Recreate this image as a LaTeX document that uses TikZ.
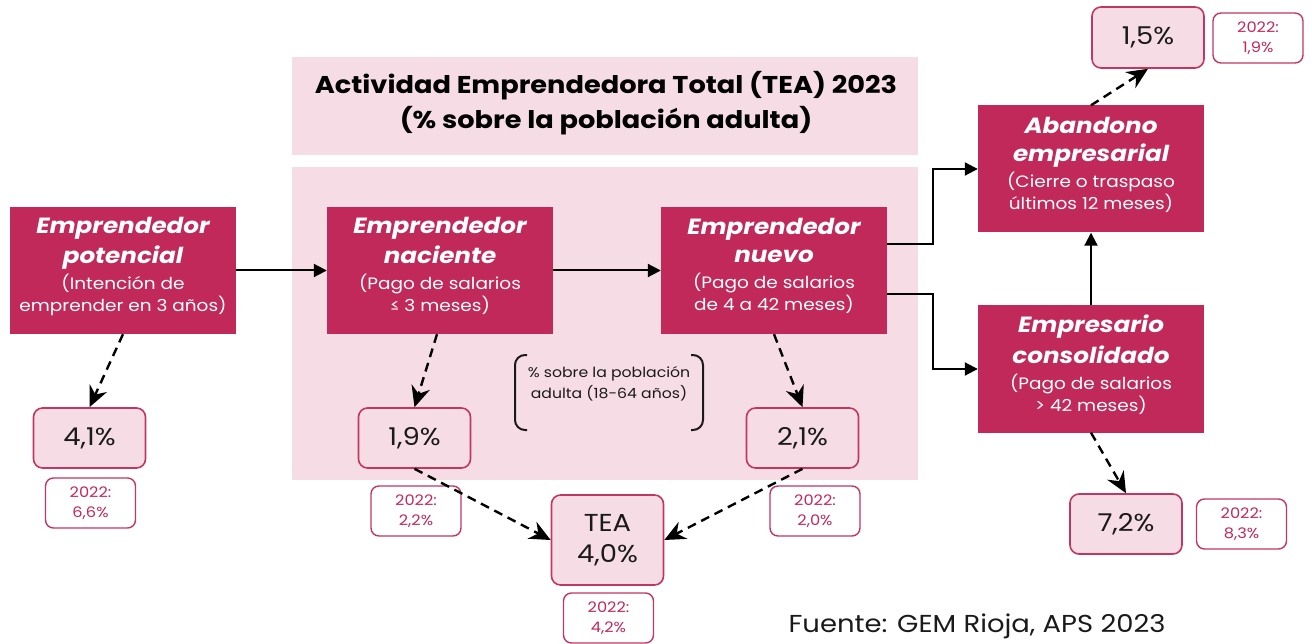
\documentclass[tikz,border=0pt]{standalone}
\usepackage{fontspec}
\setmainfont{Poppins}[FakeStretch=1.12]
\usetikzlibrary{arrows.meta,calc}
\definecolor{dark}{HTML}{C0295A}
\definecolor{lite}{HTML}{F6DDE5}
\definecolor{edge}{HTML}{C23762}
\definecolor{ink}{HTML}{1A1A1A}
\newcommand{\tfnt}{\fontsize{22}{26}\selectfont\bfseries\itshape}
\newcommand{\sfnt}{\fontsize{16.5}{22}\selectfont}
\begin{document}
\begin{tikzpicture}[x=1pt,y=-1pt,
  stage/.style={fill=dark,draw=none,text=white,align=center,minimum width=226pt,minimum height=127pt,inner sep=0,font=\sfnt},
  val/.style={fill=lite,draw=edge,line width=1.6pt,rounded corners=9pt,minimum width=112pt,minimum height=60pt,inner sep=0,text=ink,font=\fontsize{24.5}{31}\selectfont,align=center},
  prev/.style={fill=white,draw=edge,line width=1.4pt,rounded corners=8pt,minimum width=90pt,minimum height=50pt,inner sep=0,text=dark,font=\fontsize{14.5}{20}\selectfont,align=center},
  solidarr/.style={line width=2pt,-{Triangle[length=13pt,width=13pt]}},
  dasharr/.style={line width=2.4pt,dash pattern=on 9pt off 6pt,-{Stealth[length=21pt,width=19pt,inset=7pt]}}
]
\useasboundingbox (0,0) rectangle (1312,644);
\fill[lite] (292,57) rectangle (918,155);
\fill[lite] (292,167) rectangle (918,480);
\node[font=\fontsize{24.3}{35}\selectfont\bfseries,text=black,align=center] (title) at (606,103) {Actividad Emprendedora Total (TEA) 2023\\(\% sobre la población adulta)};

\node[stage] (pot) at (123,270.5) {{\tfnt Emprendedor}\\[6pt]{\tfnt potencial}\\[4pt](Intención de\\emprender en 3 años)\\[-10pt]\mbox{}};
\node[stage] (nac) at (440,270.5) {{\tfnt Emprendedor}\\[6pt]{\tfnt naciente}\\[4pt](Pago de salarios\\≤ 3 meses)\\[-10pt]\mbox{}};
\node[stage] (nue) at (774,270.5) {{\tfnt Emprendedor}\\[6pt]{\tfnt nuevo}\\[4pt](Pago de salarios\\de 4 a 42 meses)\\[-10pt]\mbox{}};
\node[stage] (aba) at (1091,169) {{\tfnt Abandono}\\[6pt]{\tfnt empresarial}\\[4pt](Cierre o traspaso\\últimos 12 meses)\\[-10pt]\mbox{}};
\node[stage] (con) at (1091,369) {{\tfnt Empresario}\\[6pt]{\tfnt consolidado}\\[4pt](Pago de salarios\\> 42 meses)\\[-10pt]\mbox{}};

\node[val] (v41) at (89.5,438) {4,1\%};
\node[prev] (p66) at (90.5,503) {2022:\\6,6\%};
\node[val] (v19) at (414.5,438) {1,9\%};
\node[prev] (p22) at (416,511) {2022:\\2,2\%};
\node[val] (v21) at (802.5,438) {2,1\%};
\node[prev] (p20) at (815,511) {2022:\\2,0\%};
\node[val,minimum height=90pt] (tea) at (607.5,540) {TEA\\4,0\%};
\node[prev] (p42) at (608.5,618) {2022:\\4,2\%};
\node[val,minimum height=61pt] (v15) at (1148,37.5) {1,5\%};
\node[prev] (p19) at (1258,38) {2022:\\1,9\%};
\node[val] (v72) at (1126,524) {7,2\%};
\node[prev] (p83) at (1241.5,524) {2022:\\8,3\%};

\node[font=\fontsize{14}{21}\selectfont,text=ink,align=center] (note) at (609,383.5) {\% sobre la población\\adulta (18-64 años)};
\draw[line width=2pt,rounded corners=10pt,ink] (527,355) -- (515,355) -- (515,430) -- (527,430);
\draw[line width=2pt,rounded corners=10pt,ink] (691,355) -- (703,355) -- (703,430) -- (691,430);

\node[font=\fontsize{24.5}{28}\selectfont,text=ink,anchor=east] (src) at (1169,626) {Fuente: GEM Rioja, APS 2023};

\draw[solidarr] (pot.east) -- (nac.west);
\draw[solidarr] (nac.east) -- (nue.west);
\draw[solidarr] ([yshift=26.5pt]nue.east) -- ++(46,0) |- (aba.west);
\draw[solidarr] ([yshift=-23.5pt]nue.east) -- ++(46,0) |- (con.west);
\draw[solidarr] (con.north) -- (aba.south);

\draw[dasharr] (pot.south) -- (v41.north);
\draw[dasharr] ([xshift=-3pt]nac.south) -- (v19.north);
\draw[dasharr] (nue.south) -- (v21.north);
\draw[dasharr] (v19.south) -- (tea.west);
\draw[dasharr] (v21.south) -- (tea.east);
\draw[dasharr] (aba.north) -- (v15.south);
\draw[dasharr] (con.south) -- (v72.north);
\end{tikzpicture}
\end{document}
